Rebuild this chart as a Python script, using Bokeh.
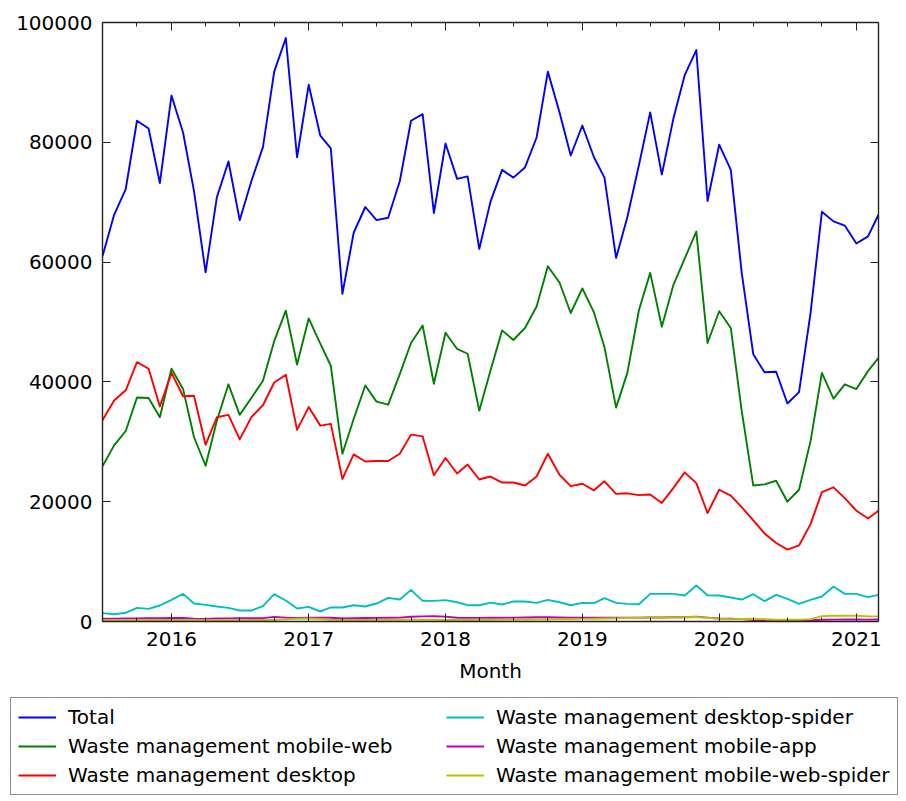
import pandas as pd
from bokeh.plotting import figure
from bokeh.layouts import column, row
from bokeh.models import (Range1d, FixedTicker, LinearAxis, DatetimeAxis, Legend, LegendItem,
                          CustomJSTickFormatter, NumeralTickFormatter, DatetimeTickFormatter,
                          ColumnDataSource)
from bokeh.embed import file_html
from bokeh.resources import INLINE

# ---- data ----
months = pd.date_range("2015-07-01", periods=69, freq="MS")
years = [2016, 2017, 2018, 2019, 2020, 2021]
y_ticks = [0, 20000, 40000, 60000, 80000, 100000]

total = [61000, 67900, 72200, 83600, 82300, 73200, 87800, 81600, 71900, 58300,
         70800, 76800, 67000, 73500, 79200, 91800, 97400, 77500, 89600, 81100,
         79000, 54700, 64900, 69200, 67000, 67400, 73500, 83600, 84700, 68200,
         79800, 73900, 74300, 62200, 70100, 75400, 74100, 75800, 80800, 91800,
         85000, 77800, 82800, 77500, 74100, 60700, 67500, 76200, 85000, 74600,
         84000, 91200, 95400, 70200, 79600, 75400, 58300, 44600, 41600, 41700,
         36400, 38300, 51600, 68400, 66800, 66100, 63100, 64300, 67900]

mobile_web = [25900, 29400, 31800, 37400, 37300, 34100, 42200, 38800, 30800, 26000,
              33500, 39600, 34500, 37300, 40200, 46800, 51900, 42900, 50600, 46400,
              42700, 28000, 33800, 39400, 36700, 36200, 41300, 46500, 49400, 39700,
              48200, 45500, 44700, 35200, 41900, 48600, 47000, 49000, 52600, 59300,
              56600, 51500, 55600, 51600, 45800, 35700, 41500, 52000, 58200, 49200,
              56200, 60600, 65100, 46500, 51800, 49000, 35200, 22700, 22900, 23500,
              20000, 22000, 30200, 41500, 37200, 39600, 38800, 41800, 44000]

desktop = [33600, 36900, 38600, 43300, 42200, 35900, 41500, 37600, 37700, 29500,
           34100, 34500, 30400, 34100, 36100, 39900, 41200, 32000, 35800, 32700,
           33000, 23800, 27900, 26700, 26800, 26800, 28000, 31200, 30900, 24400,
           27300, 24700, 26200, 23700, 24200, 23200, 23200, 22700, 24200, 28000,
           24500, 22600, 23000, 21900, 23400, 21300, 21400, 21100, 21200, 19800,
           22300, 24900, 23100, 18100, 22000, 21000, 19100, 16900, 14700, 13100,
           12000, 12700, 16300, 21600, 22400, 20600, 18500, 17200, 18500]

desktop_spider = [1390, 1220, 1450, 2280, 2110, 2670, 3610, 4610, 3000, 2780,
                  2500, 2280, 1830, 1830, 2560, 4560, 3500, 2170, 2450, 1670,
                  2340, 2340, 2720, 2500, 3000, 3950, 3670, 5280, 3450, 3450,
                  3560, 3220, 2720, 2720, 3160, 2840, 3340, 3340, 3110, 3610,
                  3220, 2720, 3110, 3060, 3890, 3110, 2950, 2890, 4610, 4610,
                  4610, 4340, 6000, 4390, 4340, 4000, 3670, 4560, 3390, 4450,
                  3780, 2950, 3610, 4170, 5840, 4610, 4610, 4060, 4450]

mobile_app = [450, 480, 500, 520, 540, 560, 600, 580, 480, 430,
              500, 520, 540, 560, 570, 780, 650, 600, 650, 620,
              620, 500, 560, 580, 600, 620, 650, 800, 850, 880,
              820, 620, 600, 600, 650, 620, 650, 680, 720, 700,
              680, 650, 640, 620, 620, 620, 640, 650, 660, 680,
              700, 720, 800, 650, 500, 450, 400, 250, 100, 50,
              80, 120, 200, 300, 320, 330, 330, 320, 330]

mobile_web_spider = [200, 200, 210, 220, 230, 240, 250, 240, 220, 200,
                     210, 220, 230, 240, 250, 300, 350, 450, 500, 420,
                     300, 250, 250, 260, 270, 280, 300, 320, 300, 280,
                     260, 250, 260, 280, 300, 320, 330, 340, 360, 380,
                     400, 420, 440, 460, 500, 550, 600, 620, 640, 660,
                     680, 700, 750, 600, 450, 400, 420, 450, 400, 300,
                     280, 300, 400, 900, 950, 950, 950, 850, 850]

series_names = ["Total", "Waste management mobile-web", "Waste management desktop",
                "Waste management desktop-spider", "Waste management mobile-app",
                "Waste management mobile-web-spider"]
series_values = [total, mobile_web, desktop, desktop_spider, mobile_app, mobile_web_spider]
series_colors = ["#0000ff", "#008000", "#ff0000", "#00bfbf", "#bf00bf", "#bfbf00"]

# ---- main chart ----
FONT = "DejaVu Sans"
LW = 1.9
x_start, x_end = months[0], months[-1]

p = figure(width=906, height=690, x_axis_type="datetime",
           x_range=Range1d(x_start, x_end), y_range=Range1d(0, 100000),
           output_backend="svg", toolbar_location=None,
           min_border_left=102, min_border_right=28, min_border_top=22, min_border_bottom=69)
p.background_fill_color = "white"
p.border_fill_color = "white"
p.outline_line_color = None
p.xgrid.visible = False
p.ygrid.visible = False

def ms(d):
    return pd.Timestamp(d).timestamp() * 1000

year_ticks = [ms(f"{y}-01-01") for y in years]
quarter_ticks = [ms(d) for d in pd.date_range(x_start, x_end, freq="QS")]
xticker = FixedTicker(ticks=year_ticks, minor_ticks=quarter_ticks)
yticker = FixedTicker(ticks=y_ticks, minor_ticks=[])

year_fmt = DatetimeTickFormatter(years="%Y", months="%Y", days="%Y", hours="%Y",
                                 minutes="%Y", seconds="%Y", milliseconds="%Y",
                                 minsec="%Y", hourmin="%Y")

def style_axis(ax):
    ax.axis_line_color = "#222222"
    ax.axis_line_width = 1.4
    ax.major_tick_line_color = "#222222"
    ax.minor_tick_line_color = "#222222"
    ax.major_tick_in = 8
    ax.major_tick_out = 0
    ax.minor_tick_in = 4
    ax.minor_tick_out = 0
    ax.major_label_text_font = FONT
    ax.major_label_text_font_size = "20px"
    ax.major_label_text_color = "black"

xa = p.xaxis[0]
xa.ticker = xticker
xa.formatter = year_fmt
style_axis(xa)
xa.major_label_standoff = 10
xa.axis_label = "Month"
xa.axis_label_text_font = FONT
xa.axis_label_text_font_size = "20px"
xa.axis_label_text_font_style = "normal"
xa.axis_label_text_color = "black"
xa.axis_label_standoff = 10

ya = p.yaxis[0]
ya.ticker = yticker
ya.formatter = NumeralTickFormatter(format="0")
style_axis(ya)
ya.major_label_standoff = 10

blank = CustomJSTickFormatter(code="return ''")
top = DatetimeAxis(ticker=xticker, formatter=blank)
style_axis(top)
top.major_label_text_font_size = "1px"
top.major_label_standoff = 0
p.add_layout(top, "above")

right = LinearAxis(ticker=yticker, formatter=blank)
style_axis(right)
right.major_label_text_font_size = "1px"
right.major_label_standoff = 0
p.add_layout(right, "right")

for vals, col in zip(series_values, series_colors):
    src = ColumnDataSource(dict(x=months, y=vals))
    p.line("x", "y", source=src, line_color=col, line_width=LW, line_join="round")

# ---- legend strip below the chart ----
p2 = figure(width=906, height=108, output_backend="svg", toolbar_location=None,
            x_range=Range1d(0, 1), y_range=Range1d(0, 1),
            min_border=0, min_border_left=0, min_border_right=0,
            min_border_top=0, min_border_bottom=0,
            x_axis_location=None, y_axis_location=None)
p2.outline_line_color = None
p2.xgrid.visible = False
p2.ygrid.visible = False
p2.background_fill_color = "white"
p2.border_fill_color = "white"

items = []
for name, col in zip(series_names, series_colors):
    r = p2.line(x=[-10, -9], y=[-10, -9], line_color=col, line_width=LW)
    items.append(LegendItem(label=name, renderers=[r]))

legend = Legend(items=items, location=(10, 3), orientation="vertical", ncols=2,
                glyph_width=38, glyph_height=22, label_height=22, label_width=373,
                label_standoff=12, spacing=5, padding=7, margin=0,
                border_line_color="#222222", border_line_width=1.2,
                label_text_font=FONT, label_text_font_size="20px", label_text_color="black",
                background_fill_color="white", background_fill_alpha=1)
p2.add_layout(legend, "center")

layout = column(p, row(p2), spacing=0)
open("out.html", "w").write(file_html(layout, INLINE))
